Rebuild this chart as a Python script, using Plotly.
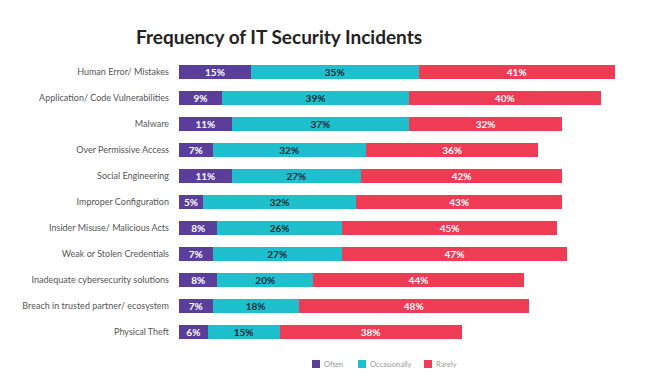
import plotly.graph_objects as go

categories = ["Human Error/ Mistakes", "Application/ Code Vulnerabilities", "Malware",
              "Over Permissive Access", "Social Engineering", "Improper Configuration",
              "Insider Misuse/ Malicious Acts", "Weak or Stolen Credentials",
              "Inadequate cybersecurity solutions", "Breach in trusted partner/ ecosystem",
              "Physical Theft"]
often = [15, 9, 11, 7, 11, 5, 8, 7, 8, 7, 6]
occasionally = [35, 39, 37, 32, 27, 32, 26, 27, 20, 18, 15]
rarely = [41, 40, 32, 36, 42, 43, 45, 47, 44, 48, 38]
series_names = ["Often", "Occasionally", "Rarely"]
colors = ["#5A3E99", "#20BFCE", "#EF3C55"]
text_colors = ["white", "#1d2a33", "white"]

# figure geometry (page has an 8px body margin, so figure coords = page - 8)
W, H = 652, 369
L, R, T, B = 171, 2, 51, 32
PW, PH = W - L - R, H - T - B
FONT = "Lato, Open Sans, sans-serif"

def px(x):
    return (x - L) / PW

def py(y):
    return (H - B - y) / PH

fig = go.Figure()
for name, vals, color, tcolor in zip(series_names, [often, occasionally, rarely], colors, text_colors):
    fig.add_trace(go.Bar(
        y=categories, x=vals, name=name, orientation="h",
        marker=dict(color=color, line=dict(width=0)),
        text=[f"{v}%" for v in vals], textposition="inside",
        insidetextanchor="middle",
        textfont=dict(family=FONT, size=10, color=tcolor, weight="bold"),
        hoverinfo="skip",
    ))

# manual legend
shapes, annotations = [], []
sq_x = [304, 350, 416]
tx_x = [314, 360, 426]
for name, color, sx, tx in zip(series_names, colors, sq_x, tx_x):
    shapes.append(dict(type="rect", xref="paper", yref="paper",
                       x0=px(sx), x1=px(sx + 8), y0=py(360), y1=py(352),
                       fillcolor=color, line=dict(width=0)))
    annotations.append(dict(text=name, xref="paper", yref="paper", x=px(tx), y=py(356),
                            xanchor="left", yanchor="middle", showarrow=False,
                            font=dict(family=FONT, size=7.5, color="#999999")))

fig.update_layout(
    barmode="stack", bargap=0.46,
    width=W, height=H,
    margin=dict(l=L, r=R, t=T, b=B),
    paper_bgcolor="white", plot_bgcolor="white",
    uniformtext=dict(minsize=8, mode="show"),
    showlegend=False,
    shapes=shapes, annotations=annotations,
    title=dict(text="<b>Frequency of IT Security Incidents</b>", x=128 / W, xanchor="left",
               y=1 - 29 / H, yanchor="middle",
               font=dict(family=FONT, size=19, color="#222222")),
    xaxis=dict(range=[0, 100], visible=False, fixedrange=True),
    yaxis=dict(autorange="reversed", automargin=False,
               tickfont=dict(family=FONT, size=9, color="#555555"),
               ticks="", ticklen=0, showgrid=False, zeroline=False, ticklabelstandoff=9),
)

fig.write_html("out.html")
